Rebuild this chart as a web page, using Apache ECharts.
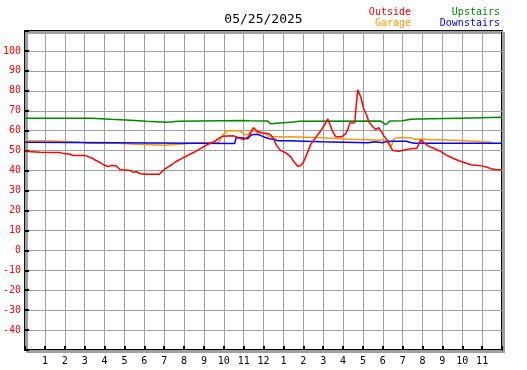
<!DOCTYPE html>
<html><head><meta charset="utf-8">
<script src="https://cdn.jsdelivr.net/npm/echarts@6/dist/echarts.min.js"></script>
<style>html,body{margin:0;padding:0;background:#fff}#c{width:527px;height:370px}</style>
</head><body><div id="c"></div>
<script>
// Hours since midnight (0..24) and temperature readings
const outside = [[0,50.0],[0.15,49.5],[0.76,49.2],[1.76,49.0],[1.87,48.7],[2.27,48.2],[2.42,47.5],[2.67,47.5],[2.77,47.9],[3.03,47.6],[3.18,47.0],[3.38,46.2],[3.53,45.3],[3.78,44.0],[4.03,42.5],[4.19,42.0],[4.34,42.6],[4.59,42.3],[4.69,41.8],[4.79,40.4],[5.3,40.0],[5.45,39.1],[5.6,39.5],[5.8,38.4],[6.05,38.2],[6.76,38.2],[7.06,41.0],[7.31,42.5],[7.56,44.3],[7.97,46.5],[8.32,48.3],[8.57,49.5],[8.82,51.0],[9.18,53.0],[9.48,54.3],[9.73,56.0],[9.93,57.2],[10.49,57.4],[10.69,56.7],[10.84,56.0],[10.99,55.5],[11.25,57.0],[11.5,61.5],[11.7,59.6],[11.95,58.9],[12.25,58.5],[12.4,57.5],[12.51,55.8],[12.66,52.5],[12.86,50.0],[13.11,49.0],[13.36,47.0],[13.52,44.5],[13.72,42.2],[13.87,42.4],[14.02,44.5],[14.17,48.0],[14.37,53.0],[14.62,56.5],[14.88,60.0],[15.08,63.0],[15.23,66.0],[15.33,63.5],[15.48,59.5],[15.63,57.0],[15.73,56.2],[15.94,57.0],[16.14,58.5],[16.24,60.5],[16.34,63.8],[16.59,64.0],[16.64,70.0],[16.74,80.5],[16.89,77.0],[17.04,71.0],[17.2,67.5],[17.3,64.5],[17.5,62.0],[17.65,60.6],[17.8,61.5],[17.9,60.5],[18.05,57.5],[18.25,55.0],[18.41,51.5],[18.51,50.0],[18.81,49.7],[18.91,50.5],[19.41,51.0],[19.72,51.2],[19.82,53.5],[19.92,55.4],[20.07,54.0],[20.27,52.4],[20.57,51.2],[20.93,49.5],[21.18,47.9],[21.53,46.2],[21.84,44.9],[22.09,44.0],[22.44,42.9],[22.79,42.6],[23.1,42.1],[23.3,41.5],[23.45,40.9],[23.7,40.4],[24,40.4]];
const garage = [[0,55.0],[1.15,55.0],[1.2,54.2],[2.75,54.2],[2.8,null],[2.85,54.0],[2.92,54.0],[2.96,null],[3.0,53.7],[4.62,53.7],[4.65,53.2],[5.6,53.2],[5.65,52.7],[7.05,52.7],[7.1,53.7],[8.4,53.7],[8.45,54.2],[9.75,54.2],[9.9,57.0],[10.05,59.0],[10.2,60.0],[10.75,60.0],[10.9,59.2],[11.05,58.0],[11.25,58.2],[11.4,60.5],[11.5,61.2],[11.65,59.5],[11.85,58.7],[12.1,58.7],[12.2,57.4],[12.4,57.0],[13.3,57.0],[13.35,56.5],[14.9,56.5],[14.95,55.7],[16.35,55.7],[16.4,55.2],[18.1,55.2],[18.3,53.5],[18.42,52.0],[18.55,55.7],[18.75,56.5],[19.4,56.5],[19.5,56.2],[19.6,55.7],[19.9,55.7],[20.0,55.4],[20.8,55.4],[20.85,54.9],[22.2,54.9],[22.25,54.2],[23.48,54.2]];
const upstairs = [[0,66.2],[3.35,66.2],[3.4,65.7],[4.3,65.7],[4.35,65.2],[5.3,65.2],[5.35,64.7],[6.1,64.7],[6.15,64.2],[7.1,64.2],[7.15,64.7],[7.7,64.7],[7.8,65.1],[11.0,65.1],[11.1,64.6],[11.3,65.0],[12.2,64.9],[12.35,63.5],[12.45,64.4],[13.5,64.4],[13.6,64.0],[13.8,64.7],[17.9,64.8],[18.0,64.3],[18.15,63.0],[18.35,64.8],[19.0,65.0],[19.4,65.7],[20.4,66.0],[20.5,66.3],[21.9,66.3],[22.0,66.7],[24,66.7]];
const downstairs = [[0,54.2],[0.35,54.2],[0.4,53.6],[10.55,53.6],[10.62,56.5],[10.85,56.5],[10.95,55.8],[11.2,56.0],[11.4,58.0],[11.7,58.2],[11.9,57.4],[12.1,56.6],[12.3,56.0],[12.55,55.7],[12.7,55.0],[13.3,55.0],[13.4,54.5],[14.9,54.5],[15.0,54.0],[17.25,54.0],[17.3,54.4],[17.6,54.4],[17.65,54.0],[18.0,54.0],[18.25,54.7],[19.2,54.7],[19.35,54.2],[19.6,53.7],[24,53.7]];
const hourLabels = ['', '1','2','3','4','5','6','7','8','9','10','11','12','1','2','3','4','5','6','7','8','9','10','11',''];
const yMin = -50, yMax = 110, yStep = 10;
const yLabelSkip = [-50, 110];
const chartTitle = '05/25/2025';
const seriesNames = ['Outside','Garage','Upstairs','Downstairs'];
const colors = {Outside:'#ff0000', Garage:'#ff9900', Upstairs:'#008800', Downstairs:'#0000ff'};

const mono = 'DejaVu Sans Mono';
const chart = echarts.init(document.getElementById('c'), null, {renderer:'canvas'});
function legendTitle(name, right, top){
  return {text:name, right:right, top:top, padding:0,
    textStyle:{fontFamily:mono, fontSize:10, fontWeight:'normal', color:colors[name], lineHeight:12}};
}
chart.setOption({
  animation:false,
  backgroundColor:'#fff',
  title:[
    {text:chartTitle, left:'center', top:12, padding:0, textStyle:{fontFamily:mono, fontSize:13, fontWeight:'normal', color:'#000', lineHeight:16}},
    legendTitle('Outside',116,6),
    legendTitle('Garage',116,17),
    legendTitle('Upstairs',27,6),
    legendTitle('Downstairs',27,17)
  ],
  grid:{left:25, right:25, top:31, bottom:20, show:true, borderColor:'#000', borderWidth:2,
    backgroundColor:'#fff', shadowColor:'#a0a0a0', shadowOffsetX:2, shadowOffsetY:2, shadowBlur:0},
  xAxis:{type:'value', min:0, max:24, interval:1,
    axisLine:{show:false, onZero:false},
    axisTick:{show:true, inside:true, length:4, lineStyle:{color:'#000', width:2}},
    splitLine:{show:true, lineStyle:{color:'#a0a0a0', width:1}},
    axisLabel:{margin:6, color:'#000', fontFamily:mono, fontSize:10,
      formatter:function(v){return hourLabels[Math.round(v)] || '';}}
  },
  yAxis:{type:'value', min:yMin, max:yMax, interval:yStep,
    axisLine:{show:false, onZero:false},
    axisTick:{show:true, inside:true, length:4, lineStyle:{color:'#000', width:2}},
    splitLine:{show:true, lineStyle:{color:'#a0a0a0', width:1}},
    axisLabel:{margin:4, color:'#ff0000', fontFamily:mono, fontSize:10,
      formatter:function(v){return yLabelSkip.indexOf(v)>=0 ? '' : String(v);}}
  },
  series:[
    {name:'Garage', type:'line', data:garage, showSymbol:false, connectNulls:false, lineStyle:{color:colors.Garage, width:1.5}, itemStyle:{color:colors.Garage}},
    {name:'Upstairs', type:'line', data:upstairs, showSymbol:false, lineStyle:{color:colors.Upstairs, width:1.5}, itemStyle:{color:colors.Upstairs}},
    {name:'Downstairs', type:'line', data:downstairs, showSymbol:false, lineStyle:{color:colors.Downstairs, width:1.5}, itemStyle:{color:colors.Downstairs}},
    {name:'Outside', type:'line', data:outside, showSymbol:false, lineStyle:{color:colors.Outside, width:1.5}, itemStyle:{color:colors.Outside}}
  ]
});
</script></body></html>
